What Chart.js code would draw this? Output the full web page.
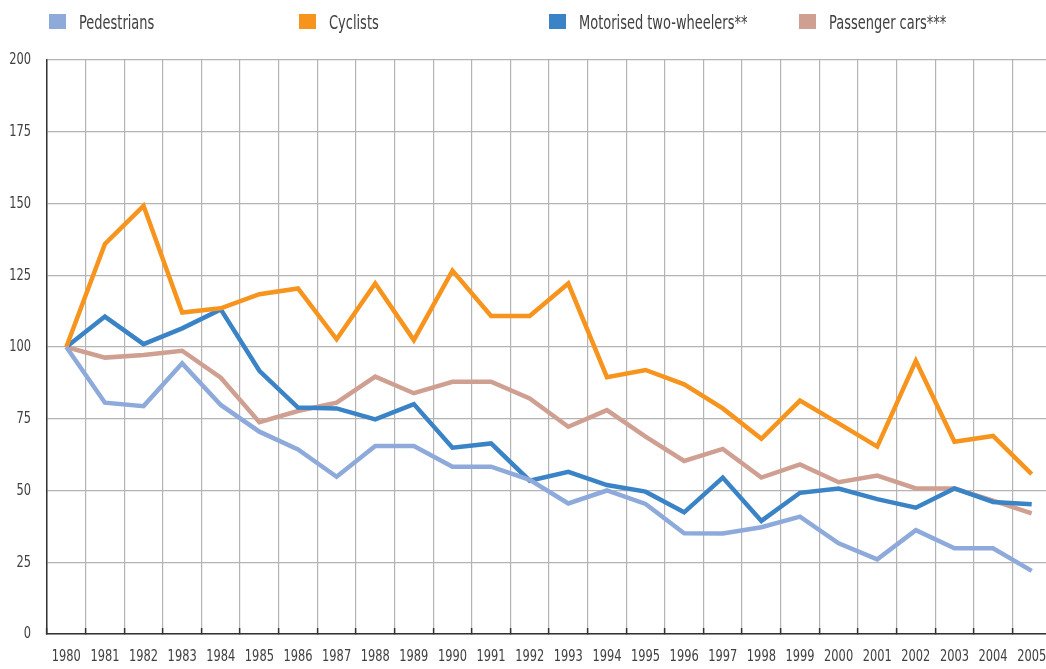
<!DOCTYPE html>
<html>
<head>
<meta charset="utf-8">
<script src="https://cdn.jsdelivr.net/npm/chart.js@4/dist/chart.umd.min.js"></script>
<style>
  body { margin: 0; overflow: hidden; background: #fff; }
  #wrap { position: relative; width: 1052px; height: 669px; }
  #legend { position: absolute; top: 0; left: 0; }
  .box { position: absolute; top: 14px; width: 17px; height: 15px; }
  .lbl { position: absolute; top: 10px; font-family: 'DejaVu Sans Condensed', sans-serif; font-size: 19px; line-height: 24px;
         color: #404040; white-space: nowrap; transform: scaleX(0.76); transform-origin: 0 50%; }
</style>
</head>
<body>
<div id="wrap">
  <canvas id="chart" width="1052" height="669"></canvas>
  <div id="legend"></div>
</div>
<script>
// Années
const years = ['1980','1981','1982','1983','1984','1985','1986','1987','1988','1989','1990','1991','1992',
               '1993','1994','1995','1996','1997','1998','1999','2000','2001','2002','2003','2004','2005'];

// Séries (indice 1980 = 100)
const pedestrians = [100, 80.6, 79.4, 94.3, 79.8, 70.5, 64.3, 54.8, 65.5, 65.5, 58.3, 58.3, 53.7,
                     45.5, 50, 45.3, 35.1, 35, 37.2, 40.9, 31.6, 26, 36.2, 29.9, 29.9, 22];
const cyclists = [100, 135.9, 149.2, 112, 113.5, 118.4, 120.4, 102.7, 122.1, 102.4, 126.6, 110.8, 110.8,
                  122.1, 89.5, 92, 87, 78.6, 68, 81.3, 73.4, 65.3, 95.2, 67, 69, 55.7];
const motorised = [100, 110.6, 101, 106.5, 113.1, 91.7, 78.9, 78.6, 74.8, 80.1, 64.9, 66.4, 53.4,
                   56.5, 51.9, 49.6, 42.4, 54.5, 39.4, 49.2, 50.7, 47, 44, 50.7, 46, 45.2];
const passengerCars = [100, 96.3, 97.2, 98.7, 89.3, 73.8, 77.7, 80.6, 89.7, 83.9, 87.9, 87.9, 82.1,
                       72.2, 78, 68.8, 60.3, 64.5, 54.5, 59.1, 52.9, 55.2, 50.7, 50.7, 46.5, 42];

// Graduations de l'axe Y
const yTicks = [0, 25, 50, 75, 100, 125, 150, 175, 200];

const seriesNames = ['Pedestrians', 'Cyclists', 'Motorised two-wheelers**', 'Passenger cars***'];
const colors = ['#8eaadb', '#f7941d', '#3a83c6', '#cfa091'];
const legendLeft = [49, 299, 549, 799];

const font = "'DejaVu Sans Condensed', sans-serif";

const datasets = [pedestrians, cyclists, motorised, passengerCars].map((d, i) => ({
    label: seriesNames[i],
    data: d,
    borderColor: colors[i],
    backgroundColor: colors[i],
    borderWidth: 4.5,
    pointRadius: 0,
    tension: 0,
    fill: false
}));

// Légende HTML
const legend = document.getElementById('legend');
datasets.forEach((ds, i) => {
    const box = document.createElement('div');
    box.className = 'box';
    box.style.left = legendLeft[i] + 'px';
    box.style.background = ds.borderColor;
    legend.appendChild(box);
    const lbl = document.createElement('div');
    lbl.className = 'lbl';
    lbl.style.left = (legendLeft[i] + 30) + 'px';
    lbl.textContent = ds.label;
    legend.appendChild(lbl);
});

// Étiquettes condensées des axes (police étroite)
const narrowLabels = {
    id: 'narrowLabels',
    afterDraw(chart) {
        const { ctx, scales: { x, y } } = chart;
        ctx.save();
        ctx.font = '16.5px ' + font;
        ctx.fillStyle = '#404040';
        ctx.textBaseline = 'middle';
        x.ticks.forEach((t, i) => {
            ctx.save();
            ctx.translate(x.getPixelForTick(i), 657);
            ctx.scale(0.77, 1);
            ctx.textAlign = 'center';
            ctx.fillText(x.getLabelForValue(t.value), 0, 0);
            ctx.restore();
        });
        yTicks.forEach(v => {
            ctx.save();
            ctx.translate(31, y.getPixelForValue(v));
            ctx.scale(0.77, 1);
            ctx.textAlign = 'right';
            ctx.fillText(String(v), 0, 0);
            ctx.restore();
        });
        ctx.restore();
    }
};

const ctx = document.getElementById('chart').getContext('2d');
new Chart(ctx, {
    type: 'line',
    data: { labels: years, datasets: datasets },
    options: {
        responsive: false,
        animation: false,
        layout: { padding: { top: 60, right: 1, left: 0, bottom: 0 } },
        plugins: { legend: { display: false }, tooltip: { enabled: false } },
        scales: {
            x: {
                type: 'category',
                offset: true,
                grid: { offset: true, color: '#b4b4b4', lineWidth: 1.2, tickColor: '#333', tickWidth: 1.5, tickLength: -6 },
                border: { color: '#333', width: 1.5 },
                ticks: { display: false, autoSkip: false },
                afterFit: s => { s.height = 35; }
            },
            y: {
                min: 0,
                max: 200,
                afterBuildTicks: s => { s.ticks = yTicks.map(v => ({ value: v })); },
                grid: { color: '#b4b4b4', lineWidth: 1.2, drawTicks: false },
                border: { color: '#333', width: 1.5 },
                ticks: { display: false },
                afterFit: s => { s.width = 47; }
            }
        }
    },
    plugins: [narrowLabels]
});
</script>
</body>
</html>
